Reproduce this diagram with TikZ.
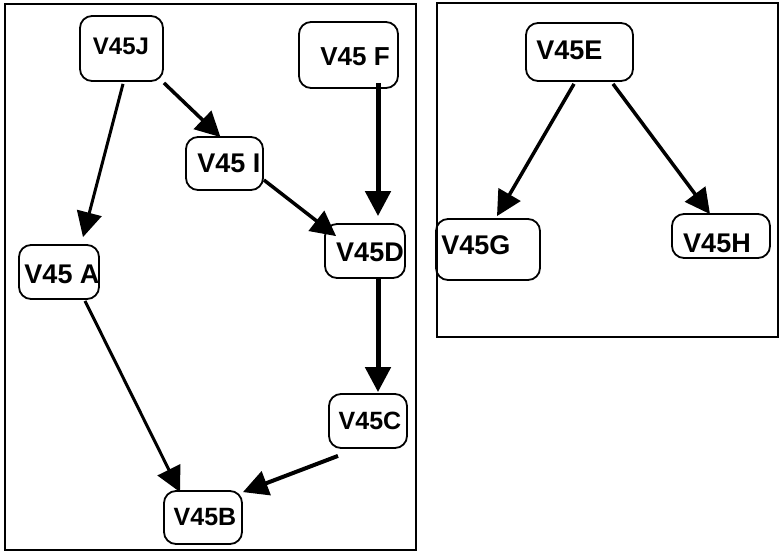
\documentclass[tikz,border=0pt]{standalone}
\usepackage{fontspec}
\setmainfont{Liberation Sans}
\usetikzlibrary{arrows.meta,calc}
\tikzset{
  box/.style={draw,line width=1.8pt,rounded corners=12pt,inner sep=0pt},
  lbl/.style={inner sep=0pt,font=\bfseries\fontsize{#1}{#1}\selectfont},
  lbl/.default=26pt,
  frame/.style={draw,line width=1.4pt},
  conn/.style={line width=#1,-{Triangle[length=25pt,width=25pt]}},
  conn/.default=3.5pt
}
\begin{document}
\begin{tikzpicture}[x=1pt,y=-1pt]
\useasboundingbox (0,0) rectangle (780,552);
% frames
\node[frame,minimum width=411pt,minimum height=546pt,inner sep=0pt] (leftframe) at (210.5,277) {};
\node[frame,minimum width=341pt,minimum height=334pt,inner sep=0pt] (rightframe) at (607.5,170) {};
% boxes
\node[box,minimum width=83pt,minimum height=65pt] (J) at (121.5,48.5) {};
\node[box,minimum width=99pt,minimum height=66pt] (F) at (348.5,55) {};
\node[box,minimum width=77pt,minimum height=53pt] (I) at (224.5,163.5) {};
\node[box,minimum width=80pt,minimum height=54pt] (D) at (365,251) {};
\node[box,minimum width=80pt,minimum height=54pt] (A) at (59,272) {};
\node[box,minimum width=78pt,minimum height=54pt] (C) at (368,421) {};
\node[box,minimum width=78pt,minimum height=53pt] (B) at (203,517.5) {};
\node[box,minimum width=107pt,minimum height=58pt] (E) at (579.5,52) {};
\node[box,minimum width=104pt,minimum height=61pt] (G) at (488,249.5) {};
\node[box,minimum width=98pt,minimum height=44pt] (H) at (721,236) {};
% labels
\node[lbl=24pt] (Jt) at (121,46.7) {V45J};
\node[lbl=26pt] (Ft) at (355,56.7) {V45 F};
\node[lbl=27pt] (It) at (228.8,163.7) {V45 I};
\node[lbl=27pt] (Dt) at (370,252.2) {V45D};
\node[lbl=27pt] (At) at (62,274.2) {V45 A};
\node[lbl=25pt] (Ct) at (370,420.5) {V45C};
\node[lbl=25pt] (Bt) at (205,517) {V45B};
\node[lbl=27pt] (Et) at (569.3,50.5) {V45E};
\node[lbl=27pt] (Gt) at (475.8,245) {V45G};
\node[lbl=27pt] (Ht) at (717,243) {V45H};
% connectors
\draw[conn=3.5pt] ($(J.south east)+(0,1)$) -- ($(I.north)+(-4,1)$);
\draw[conn=3pt] ($(J.south)+(1.5,2)$) -- ($(A.north)+(24,-7)$);
\draw[conn=5pt] ($(F.south)+(29.5,-6)$) -- ($(D.north)+(13,-7)$);
\draw[conn=3.5pt] ($(I.east)+(0,16.5)$) -- ($(D.north west)+(12,13)$);
\draw[conn=5pt] ($(D.south)+(13,0)$) -- ($(C.north)+(10,-1)$);
\draw[conn=3pt] ($(A.south)+(26,1)$) -- ($(B.north)+(-23,2)$);
\draw[conn=4pt] ($(C.south)+(-30,7)$) -- ($(B.north east)+(0,2)$);
\draw[conn=3.5pt] ($(E.south)+(-5.5,2)$) -- ($(G.north)+(9,-2)$);
\draw[conn=3.5pt] ($(E.south)+(33.5,2)$) -- ($(H.north)+(-11,1)$);
\end{tikzpicture}
\end{document}
